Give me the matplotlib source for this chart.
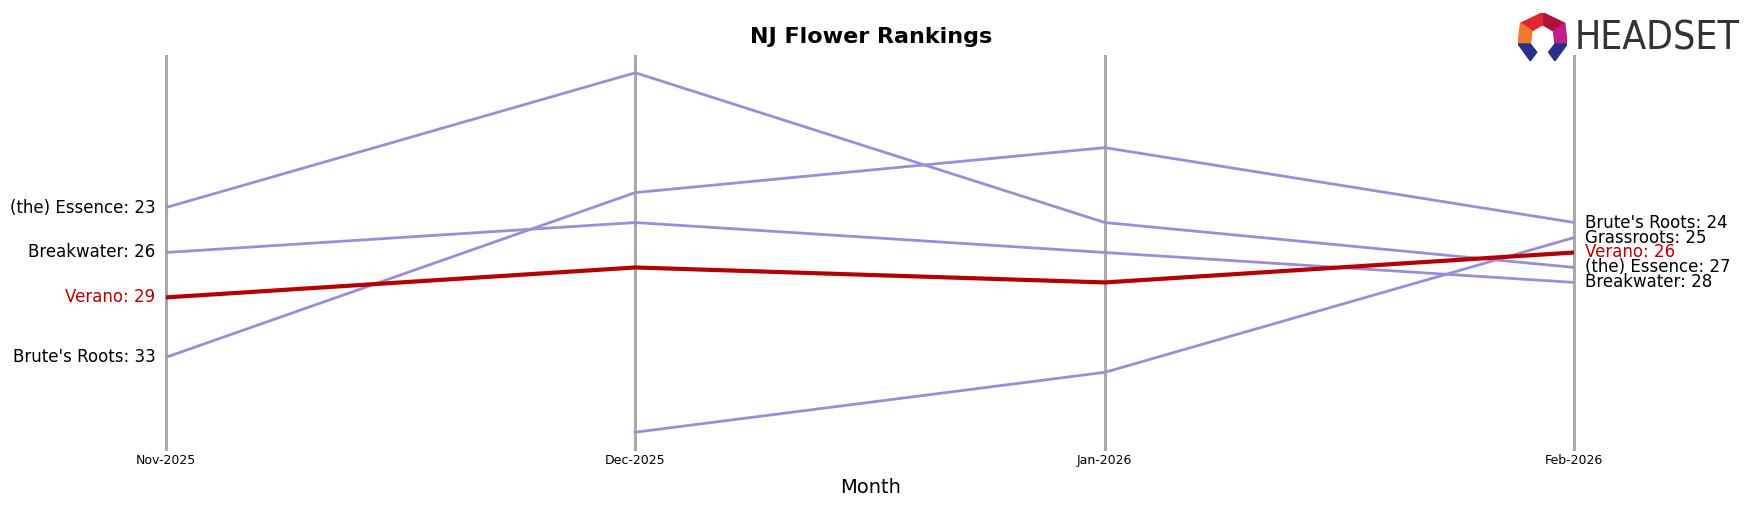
import matplotlib.pyplot as plt
from matplotlib.patches import Polygon

months = ['Nov-2025', 'Dec-2025', 'Jan-2026', 'Feb-2026']
brands = ["(the) Essence", "Breakwater", "Verano", "Brute's Roots", "Grassroots"]
ranks = {
    "(the) Essence": [23, 14, 24, 27],
    "Breakwater": [26, 24, 26, 28],
    "Verano": [29, 27, 28, 26],
    "Brute's Roots": [33, 22, 19, 24],
    "Grassroots": [None, 38, 34, 25],
}
highlight = "Verano"

fig = plt.figure(figsize=(17.57, 5.07), dpi=100)
ax = fig.add_axes([0.0944, 0.115, 0.8016, 0.774])

for i in range(len(months)):
    ax.axvline(i, color='#aaaaaa', lw=2.2, zorder=0, clip_on=False)

for b in brands:
    xs = [i for i, v in enumerate(ranks[b]) if v is not None]
    ys = [v for v in ranks[b] if v is not None]
    if b == highlight:
        ax.plot(xs, ys, color='#b30000', lw=3, zorder=3)
    else:
        ax.plot(xs, ys, color='#9b8ed8', lw=2, zorder=2)

for b in brands:
    v = ranks[b][0]
    if v is not None:
        c = '#b30000' if b == highlight else 'black'
        ax.text(-0.022, v, f"{b}: {v}", ha='right', va='center', fontsize=12, color=c)
    v = ranks[b][-1]
    c = '#b30000' if b == highlight else 'black'
    ax.text(3.022, v, f"{b}: {v}", ha='left', va='center', fontsize=12, color=c)

ax.set_xlim(0, 3)
ax.set_ylim(39.1, 12.9)
ax.set_xticks(range(len(months)))
ax.set_xticklabels(months, fontsize=9)
ax.tick_params(length=0)
ax.set_yticks([])
for s in ax.spines.values():
    s.set_visible(False)
ax.set_xlabel('Month', fontsize=14, labelpad=8)
fig.text(0.496, 0.927, 'NJ Flower Rankings', ha='center', va='center', fontsize=16, fontweight='bold')

# logo
fig.text(0.896, 0.925, 'HEADSET', ha='left', va='center', fontsize=28, color='#333333',
         fontstretch='condensed')
lax = fig.add_axes([0.864, 0.88, 0.028, 0.095])
lax.set_xlim(0, 1); lax.set_ylim(0, 1); lax.axis('off')
for pts, col in [
    ([(0.5, 1), (0.95, 0.78), (0.72, 0.62), (0.5, 0.75)], '#b0103a'),
    ([(0.5, 1), (0.05, 0.78), (0.28, 0.62), (0.5, 0.75)], '#e0262f'),
    ([(0.05, 0.78), (0.28, 0.62), (0.25, 0.35), (0.0, 0.35)], '#f07a2a'),
    ([(0.95, 0.78), (0.72, 0.62), (0.75, 0.35), (1.0, 0.35)], '#c0208a'),
    ([(0.0, 0.35), (0.25, 0.35), (0.38, 0.18), (0.25, 0.0)], '#2a2f8a'),
    ([(1.0, 0.35), (0.75, 0.35), (0.62, 0.18), (0.75, 0.0)], '#2a2f8a'),
]:
    lax.add_patch(Polygon(pts, closed=True, color=col))
fig.savefig('out.png')
